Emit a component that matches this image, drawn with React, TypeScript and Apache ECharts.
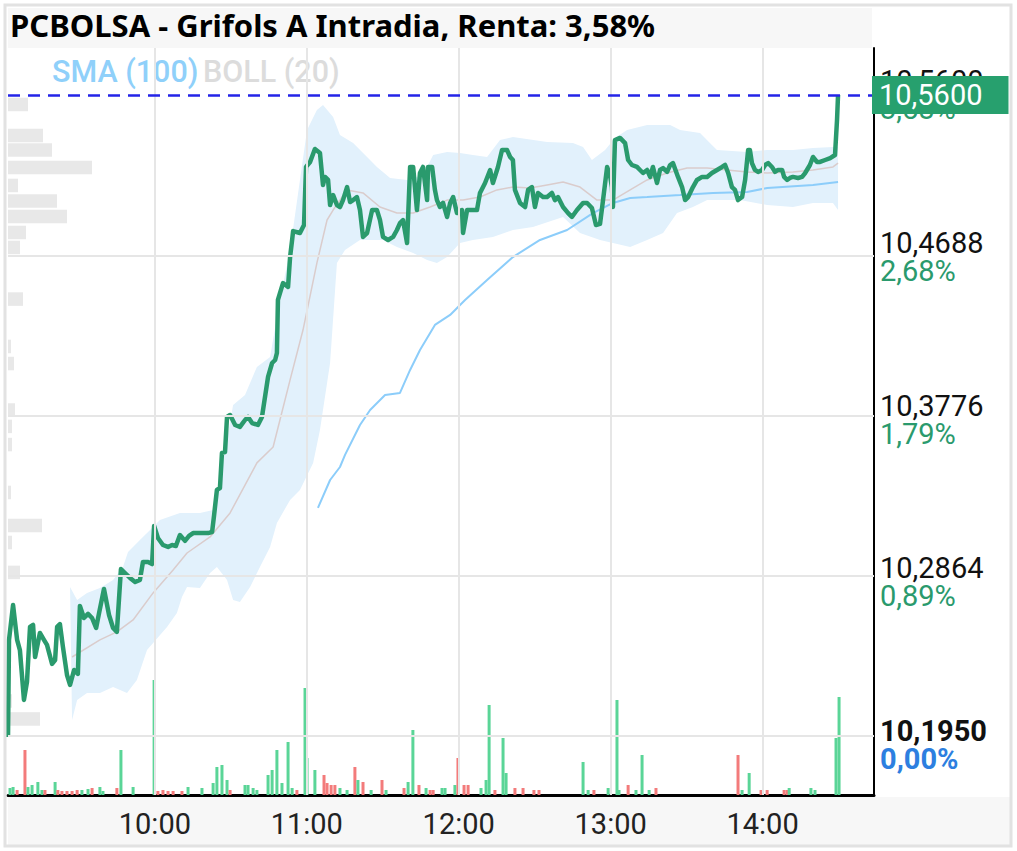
import React, { useEffect, useRef } from 'react';
import * as echarts from 'echarts';

// ---- Data (x = minutes after 09:00) ----
const chartTitle = 'PCBOLSA - Grifols A Intradia, Renta: 3,58%';
const lastPrice = 10.56;
const lastPriceLabel = '10,5600';

const priceTimes = [
  2.0, 2.4, 4.0, 5.6, 6.7, 8.3, 9.5, 10.7, 11.9, 12.7,
  14.6, 16.2, 17.4, 19.4, 20.6, 21.4, 22.5, 23.7, 25.3, 26.5,
  28.1, 29.6, 30.4, 32.0, 33.6, 35.2, 36.8, 37.9, 39.9, 41.9,
  43.5, 45.0, 46.6, 48.6, 50.2, 52.2, 54.1, 55.3, 57.3, 58.9,
  59.7, 61.2, 63.2, 65.2, 66.8, 68.3, 69.9, 71.9, 73.5, 75.1,
  77.8, 81.0, 82.6, 83.4, 84.5, 85.7, 86.5, 87.7, 88.5, 89.7,
  91.7, 93.6, 95.6, 96.8, 98.4, 100.7, 102.3, 104.7, 106.3, 107.5,
  108.2, 108.6, 109.4, 110.6, 112.6, 113.4, 114.2, 114.6, 117.3, 118.9,
  119.7, 121.3, 123.2, 125.2, 126.4, 127.2, 128.4, 129.2, 130.4, 131.9,
  133.1, 134.3, 135.9, 137.1, 138.3, 139.8, 141.0, 142.2, 143.8, 145.8,
  147.7, 148.9, 150.1, 152.1, 154.1, 155.6, 156.8, 158.0, 159.6, 160.8,
  162.0, 163.5, 164.7, 165.9, 167.5, 167.9, 169.5, 170.6, 171.4, 172.6,
  173.8, 175.4, 176.6, 177.8, 179.3, 181.3, 181.7, 183.3, 185.3, 187.2,
  188.4, 190.4, 192.4, 193.5, 195.5, 197.1, 199.1, 200.3, 201.4, 202.2,
  204.2, 206.2, 207.4, 208.9, 210.1, 211.3, 213.3, 214.9, 216.8, 218.0,
  219.2, 221.2, 223.2, 224.7, 226.7, 229.1, 230.7, 232.6, 234.2, 235.8,
  237.0, 238.6, 239.7, 240.5, 240.9, 241.7, 243.7, 245.7, 246.9, 248.4,
  250.4, 251.6, 252.8, 254.4, 255.6, 256.7, 258.3, 259.5, 260.7, 262.3,
  263.5, 264.6, 266.6, 268.2, 269.4, 270.6, 272.5, 274.1, 276.1, 278.1,
  280.0, 282.0, 284.0, 285.2, 286.4, 287.9, 289.1, 290.3, 291.9, 293.1,
  294.3, 295.0, 295.8, 297.0, 298.2, 299.8, 301.0, 302.2, 303.7, 304.9,
  306.1, 307.7, 308.5, 309.7, 310.8, 312.0, 314.0, 315.6, 316.8, 318.7,
  319.9, 321.5, 322.7, 324.7, 326.7, 328.6, 329.4, 329.8,
];
const priceValues = [
  10.1995, 10.2540, 10.2736, 10.2540, 10.2483, 10.2203, 10.2304, 10.2613, 10.2624, 10.2444,
  10.2579, 10.2540, 10.2512, 10.2405, 10.2427, 10.2613, 10.2629, 10.2500, 10.2343, 10.2287,
  10.2371, 10.2349, 10.2731, 10.2663, 10.2686, 10.2663, 10.2607, 10.2686, 10.2826, 10.2680,
  10.2607, 10.2585, 10.2938, 10.2910, 10.2888, 10.2865, 10.2877, 10.2978, 10.2978, 10.2966,
  10.3180, 10.3112, 10.3073, 10.3062, 10.3073, 10.3067, 10.3129, 10.3096, 10.3124, 10.3140,
  10.3140, 10.3140, 10.3146, 10.3242, 10.3382, 10.3393, 10.3590, 10.3595, 10.3792, 10.3803,
  10.3747, 10.3736, 10.3775, 10.3792, 10.3758, 10.3747, 10.3792, 10.4017, 10.4095, 10.4112,
  10.4151, 10.4449, 10.4488, 10.4544, 10.4522, 10.4690, 10.4786, 10.4836, 10.4825, 10.4870,
  10.5196, 10.5224, 10.5297, 10.5274, 10.5095, 10.5140, 10.5123, 10.4982, 10.5038, 10.4982,
  10.4971, 10.5010, 10.5083, 10.4999, 10.5010, 10.5027, 10.4954, 10.4803, 10.4825, 10.4954,
  10.4954, 10.4898, 10.4803, 10.4786, 10.4803, 10.4842, 10.4881, 10.4898, 10.4769, 10.5196,
  10.5196, 10.4954, 10.5162, 10.5196, 10.5010, 10.5196, 10.5196, 10.5067, 10.5010, 10.4971,
  10.4994, 10.4915, 10.4994, 10.5027, 10.4937, 10.4954, 10.4825, 10.4954, 10.4954, 10.4954,
  10.5050, 10.5106, 10.5179, 10.5106, 10.5196, 10.5291, 10.5291, 10.5252, 10.5235, 10.5067,
  10.4994, 10.4971, 10.5067, 10.5083, 10.4971, 10.5050, 10.5027, 10.5027, 10.5050, 10.5010,
  10.5027, 10.4971, 10.4937, 10.4915, 10.4954, 10.4994, 10.4994, 10.4965, 10.4870, 10.4876,
  10.5010, 10.5196, 10.5151, 10.5083, 10.4971, 10.5347, 10.5359, 10.5330, 10.5235, 10.5207,
  10.5196, 10.5179, 10.5162, 10.5179, 10.5140, 10.5196, 10.5106, 10.5179, 10.5190, 10.5168,
  10.5207, 10.5218, 10.5140, 10.5083, 10.5010, 10.5027, 10.5083, 10.5123, 10.5140, 10.5140,
  10.5162, 10.5179, 10.5196, 10.5207, 10.5162, 10.5083, 10.5067, 10.5010, 10.5027, 10.5123,
  10.5291, 10.5291, 10.5218, 10.5179, 10.5168, 10.5179, 10.5207, 10.5218, 10.5196, 10.5168,
  10.5179, 10.5179, 10.5140, 10.5123, 10.5134, 10.5140, 10.5134, 10.5140, 10.5162, 10.5207,
  10.5252, 10.5224, 10.5224, 10.5235, 10.5246, 10.5263, 10.5460, 10.5600,
];

const bollUpperTimes = [
  26.5, 29.3, 33.2, 38.3, 43.5, 47.4, 49.4, 54.1, 58.1, 62.0, 69.9, 77.8, 83.0, 85.7, 88.1, 90.9,
  95.6, 100.3, 105.5, 109.4, 113.4, 117.3, 120.1, 124.0, 126.4, 130.4, 133.1, 138.3, 143.8, 147.7,
  152.9, 159.6, 165.9, 169.9, 175.4, 180.5, 185.6, 191.2, 196.3, 201.4, 214.9, 225.1, 229.1, 232.6,
  237.8, 241.7, 246.5, 254.4, 263.5, 267.4, 275.3, 279.2, 282.0, 293.9, 301.8, 312.0, 319.9, 327.8, 329.8,
];
const bollUpper = [
  10.2837, 10.2764, 10.2804, 10.2832, 10.2877, 10.2950, 10.3034, 10.3101, 10.3157, 10.3213, 10.3253, 10.3253, 10.3270, 10.3438, 10.3635, 10.3859,
  10.3915, 10.4073, 10.4129, 10.4449, 10.4730, 10.5123, 10.5403, 10.5516, 10.5544, 10.5476, 10.5375, 10.5330, 10.5252, 10.5196,
  10.5134, 10.5123, 10.5151, 10.5263, 10.5280, 10.5274, 10.5263, 10.5252, 10.5347, 10.5364, 10.5336, 10.5330, 10.5308, 10.5235,
  10.5291, 10.5359, 10.5403, 10.5432, 10.5432, 10.5403, 10.5387, 10.5330, 10.5291, 10.5280, 10.5291, 10.5291, 10.5302, 10.5308, 10.5308,
];
const bollLowerTimes = [
  27.3, 29.3, 33.2, 38.3, 43.5, 49.0, 52.9, 56.9, 59.3, 64.8, 68.7, 70.7, 72.7, 77.8, 81.8, 84.5,
  88.5, 90.9, 93.6, 97.6, 101.5, 105.5, 108.2, 113.4, 117.3, 122.5, 125.2, 129.2, 131.9, 135.1,
  141.0, 150.1, 155.6, 162.0, 167.5, 171.4, 175.4, 180.5, 185.6, 193.5, 201.4, 209.3, 221.2, 227.9,
  235.8, 240.9, 247.7, 254.4, 260.7, 266.2, 272.5, 278.1, 291.1, 301.8, 312.0, 319.9, 327.8, 329.8,
];
const bollLower = [
  10.2090, 10.2203, 10.2242, 10.2242, 10.2276, 10.2242, 10.2315, 10.2483, 10.2523, 10.2613, 10.2691, 10.2781, 10.2837, 10.2832, 10.2916, 10.2950,
  10.2877, 10.2764, 10.2753, 10.2837, 10.2950, 10.3062, 10.3197, 10.3326, 10.3382, 10.3534, 10.3719, 10.4095, 10.4657, 10.4730,
  10.4786, 10.4786, 10.4746, 10.4713, 10.4673, 10.4657, 10.4690, 10.4769, 10.4786, 10.4803, 10.4842, 10.4859, 10.4915, 10.4825,
  10.4786, 10.4769, 10.4746, 10.4786, 10.4825, 10.4937, 10.4971, 10.5010, 10.5010, 10.4982, 10.4971, 10.4994, 10.4994, 10.4954,
];
const bollMidTimes = [
  27.3, 38.3, 45.0, 51.4, 59.3, 67.2, 72.7, 81.8, 89.7, 100.3, 106.7, 109.4, 113.4, 118.5, 124.0, 128.0,
  130.4, 135.9, 142.2, 148.9, 155.6, 162.0, 168.7, 175.4, 181.7, 188.4, 195.1, 201.4, 208.2, 214.9,
  221.2, 227.9, 234.6, 240.9, 247.7, 254.4, 262.3, 270.2, 278.1, 286.0, 293.9, 301.8, 312.0, 319.9, 327.8, 329.8,
];
const bollMid = [
  10.2444, 10.2540, 10.2585, 10.2652, 10.2804, 10.2933, 10.3028, 10.3118, 10.3253, 10.3534, 10.3623, 10.3775, 10.4000, 10.4280, 10.4657, 10.4898,
  10.4954, 10.5067, 10.5050, 10.4971, 10.4937, 10.4937, 10.4971, 10.5010, 10.5010, 10.5027, 10.5067, 10.5083, 10.5078, 10.5095,
  10.5111, 10.5083, 10.5010, 10.5010, 10.5067, 10.5123, 10.5162, 10.5190, 10.5190, 10.5179, 10.5168, 10.5162, 10.5168, 10.5179, 10.5196, 10.5218,
];
const smaTimes = [
  124.4, 129.2, 133.1, 135.1, 141.0, 145.0, 150.9, 156.8, 160.8, 164.7, 170.6, 176.6, 182.5, 191.2,
  201.4, 212.1, 222.8, 233.0, 240.9, 247.7, 254.4, 267.4, 280.4, 293.9, 301.8, 319.9, 329.8,
];
const smaValues = [
  10.3281, 10.3438, 10.3511, 10.3579, 10.3747, 10.3831, 10.3915, 10.3927, 10.4056, 10.4168, 10.4309, 10.4365, 10.4449, 10.4561,
  10.4690, 10.4786, 10.4842, 10.4937, 10.4994, 10.5022, 10.5027, 10.5038, 10.5050, 10.5055, 10.5078, 10.5095, 10.5111,
];

const volTimes = [
  2.8, 4.0, 5.6, 8.7, 9.9, 11.5, 13.8, 15.4, 16.6, 20.6,
  21.7, 23.3, 25.3, 27.3, 29.3, 31.2, 33.6, 35.2, 38.3, 39.5,
  45.0, 46.6, 51.4, 59.7, 61.2, 63.2, 65.2, 67.2, 70.7, 73.1,
  78.6, 83.0, 84.5, 86.5, 88.5, 89.7, 95.6, 96.8, 98.8, 100.3,
  104.7, 106.3, 108.2, 110.2, 112.6, 114.2, 116.1, 119.3, 120.1, 123.2,
  126.8, 128.0, 129.6, 131.1, 133.1, 135.9, 139.0, 140.2, 142.2, 145.4,
  149.7, 151.3, 158.4, 160.0, 161.9, 164.3, 167.1, 168.7, 169.9, 173.4,
  174.6, 178.5, 179.7, 182.1, 183.7, 188.8, 190.8, 192.0, 194.3, 197.5,
  198.7, 202.2, 205.4, 209.7, 211.7, 229.1, 231.1, 233.4, 239.0, 242.5,
  243.3, 246.9, 250.0, 252.4, 255.2, 257.9, 290.3, 291.9, 294.7, 299.4,
  301.8, 308.5, 309.7, 310.5, 319.1, 320.7, 329.0, 330.2,
];
const volValues = [
  7, 8, 5, 45, 8, 10, 13, 5, 5, 13,
  5, 4, 4, 4, 5, 5, 6, 7, 8, 4,
  7, 45, 8, 115, 4, 5, 4, 4, 4, 8,
  7, 12, 28, 30, 15, 5, 10, 10, 7, 5,
  20, 25, 45, 12, 53, 7, 5, 107, 37, 25,
  20, 12, 10, 10, 7, 5, 28, 15, 13, 5,
  15, 5, 7, 13, 65, 10, 7, 5, 5, 7,
  7, 10, 37, 10, 10, 7, 15, 90, 5, 57,
  22, 7, 7, 5, 5, 33, 5, 5, 7, 95,
  5, 10, 5, 40, 5, 7, 40, 5, 22, 5,
  5, 5, 5, 7, 7, 5, 57, 98,
];
const volUp = [
  1, 1, 0, 0, 1, 1, 1, 1, 0, 1,
  0, 0, 0, 0, 0, 1, 1, 0, 1, 1,
  0, 1, 1, 1, 0, 0, 0, 0, 0, 1,
  1, 1, 1, 1, 1, 0, 1, 1, 1, 1,
  1, 1, 1, 1, 1, 1, 0, 1, 1, 1,
  0, 0, 0, 0, 1, 1, 0, 1, 0, 1,
  0, 1, 0, 1, 1, 0, 1, 0, 0, 1,
  1, 1, 0, 0, 0, 1, 1, 1, 0, 1,
  1, 0, 0, 0, 0, 1, 1, 0, 1, 1,
  1, 0, 1, 1, 1, 0, 0, 1, 1, 0,
  0, 0, 0, 1, 1, 1, 1, 1,
];

const profilePrices = [
  10.5547, 10.5373, 10.5291, 10.5193, 10.5092, 10.5005, 10.4918, 10.4828, 10.4744, 10.4454, 10.4188,
  10.4092, 10.3831, 10.3739, 10.3637, 10.3368, 10.3183, 10.3087, 10.2919, 10.2197, 10.2096,
];
const profileVolumes = [20, 35, 44, 84, 10, 49, 59, 18, 12, 15, 3, 6, 7, 4, 4, 3, 34, 4, 12, 4, 32];
const profileBin = 0.0076;

const priceTicks = [10.195, 10.2864, 10.3776, 10.4688, 10.56];
const priceTickLabels = ['10,1950', '10,2864', '10,3776', '10,4688', '10,5600'];
const pctTickLabels = ['0,00%', '0,89%', '1,79%', '2,68%', '3,58%'];
const hourTicks = [60, 120, 180, 240, 300];

const X_MIN = 2;
const X_MAX = 344;
const Y_MIN = 10.1669;
const Y_MAX = 10.5864;

function fmtTime(v: number) {
  const t = 540 + v;
  const h = Math.floor(t / 60);
  const m = Math.round(t % 60);
  return `${h}:${m < 10 ? '0' + m : m}`;
}

export default function App() {
  const ref = useRef<HTMLDivElement>(null);
  useEffect(() => {
    document.body.style.margin = '0';
    const chart = echarts.init(ref.current!, null, { renderer: 'svg' });
    const green = '#2a9a6d';
    const option: any = {
      animation: false,
      backgroundColor: '#ffffff',
      grid: [
        { left: 8, top: 48, width: 866, height: 747 },
        { left: 8, top: 655, width: 866, height: 140 },
        { left: 8, top: 48, width: 866, height: 747 },
      ],
      xAxis: [
        {
          gridIndex: 0, type: 'value', min: X_MIN, max: X_MAX,
          axisLine: { show: true, onZero: false, lineStyle: { color: '#000', width: 3 } },
          axisTick: { show: false },
          splitLine: { show: false },
          axisLabel: {
            customValues: hourTicks,
            formatter: (v: number) => fmtTime(v),
            fontSize: 29, color: '#222', fontFamily: 'Roboto', margin: 14,
          },
        },
        { gridIndex: 1, type: 'value', min: X_MIN, max: X_MAX, show: false },
        { gridIndex: 2, type: 'value', min: 0, max: 866, show: false },
      ],
      yAxis: [
        {
          gridIndex: 0, type: 'value', position: 'right', min: Y_MIN, max: Y_MAX,
          axisLine: { show: true, lineStyle: { color: '#000', width: 2 } },
          axisTick: { show: false },
          splitLine: { show: false },
          axisLabel: {
            customValues: priceTicks,
            margin: 6,
            formatter: (v: number) => {
              let idx = 0;
              priceTicks.forEach((p, i) => { if (Math.abs(p - v) < 1e-6) idx = i; });
              if (idx === 0) return `{pb|${priceTickLabels[idx]}}\n{cb|${pctTickLabels[idx]}}`;
              return `{p|${priceTickLabels[idx]}}\n{c|${pctTickLabels[idx]}}`;
            },
            rich: {
              p: { color: '#111', fontSize: 29, lineHeight: 28, fontFamily: 'Roboto' },
              c: { color: green, fontSize: 29, lineHeight: 28, fontFamily: 'Roboto' },
              pb: { color: '#111', fontSize: 29, lineHeight: 28, fontFamily: 'Roboto', fontWeight: 'bold' },
              cb: { color: '#2d7fe0', fontSize: 29, lineHeight: 28, fontFamily: 'Roboto', fontWeight: 'bold' },
            },
          },
        },
        { gridIndex: 1, type: 'value', min: 0, max: 140, show: false },
        { gridIndex: 2, type: 'value', min: Y_MIN, max: Y_MAX, show: false },
      ],
      graphic: [
        { type: 'rect', z: -10, shape: { x: 8, y: 8, width: 864, height: 40 }, style: { fill: '#f7f7f7' } },
        { type: 'rect', z: -10, shape: { x: 8, y: 797, width: 1002, height: 48 }, style: { fill: '#f7f7f7' } },
        { type: 'rect', z: 100, shape: { x: 5, y: 5, width: 1006, height: 841 }, style: { fill: 'none', stroke: '#e2e2e2', lineWidth: 3 } },
        { type: 'text', left: 10, top: 9, style: { text: chartTitle, fontSize: 31, fontWeight: 'bold', fontFamily: 'Noto Sans', fill: '#000' } },
        { type: 'text', left: 52, top: 56, style: { text: 'SMA (100)', fontSize: 30.5, fontWeight: 500, fontFamily: 'Roboto', fill: '#8fd0fa' } },
        { type: 'text', left: 203, top: 56, style: { text: 'BOLL (20)', fontSize: 30.5, fontWeight: 500, fontFamily: 'Roboto', fill: '#dcdcdc' } },
      ],
      series: [
        {
          name: 'grid', type: 'line', xAxisIndex: 0, yAxisIndex: 0, data: [], z: 1, silent: true,
          markLine: {
            silent: true, symbol: ['none', 'none'], label: { show: false },
            lineStyle: { color: '#e6e6e6', width: 2, type: 'solid' },
            data: [
              ...hourTicks.map((v) => ({ xAxis: v })),
              ...priceTicks.slice(0, 4).map((v) => ({ yAxis: v })),
            ],
          },
        },
        {
          name: 'profile', type: 'custom', xAxisIndex: 2, yAxisIndex: 2, z: 2, silent: true, clip: false,
          data: profilePrices.map((p, i) => [profileVolumes[i], p]),
          renderItem: (params: any, api: any) => {
            const vol = api.value(0);
            const price = api.value(1);
            const a = api.coord([0, price + profileBin / 2]);
            const b = api.coord([vol, price - profileBin / 2]);
            return { type: 'rect', shape: { x: a[0], y: a[1], width: b[0] - a[0], height: b[1] - a[1] }, style: { fill: '#e8e8e8' } };
          },
        },
        {
          name: 'BOLL band', type: 'custom', xAxisIndex: 0, yAxisIndex: 0, z: 2, silent: true, clip: false,
          data: [[bollUpperTimes[0], bollUpper[0]]],
          renderItem: (params: any, api: any) => {
            const pts: number[][] = [];
            bollUpperTimes.forEach((t, i) => pts.push(api.coord([t, bollUpper[i]])));
            for (let i = bollLowerTimes.length - 1; i >= 0; i--) pts.push(api.coord([bollLowerTimes[i], bollLower[i]]));
            return { type: 'polygon', shape: { points: pts }, style: { fill: '#e2f1fc' } };
          },
        },
        {
          name: 'BOLL mid', type: 'line', xAxisIndex: 0, yAxisIndex: 0, z: 3, symbol: 'none', silent: true,
          data: bollMidTimes.map((t, i) => [t, bollMid[i]]),
          lineStyle: { color: '#dacccc', width: 1.5 },
        },
        {
          name: 'SMA (100)', type: 'line', xAxisIndex: 0, yAxisIndex: 0, z: 3, symbol: 'none', silent: true,
          data: smaTimes.map((t, i) => [t, smaValues[i]]),
          lineStyle: { color: '#8ccdfa', width: 2 },
        },
        {
          name: 'Volumen', type: 'bar', xAxisIndex: 1, yAxisIndex: 1, z: 3, silent: true, barWidth: 3,
          data: volTimes.map((t, i) => ({
            value: [t, volValues[i]],
            itemStyle: { color: volUp[i] ? '#5ad597' : '#f37b7b' },
          })),
        },
        {
          name: 'Precio', type: 'line', xAxisIndex: 0, yAxisIndex: 0, z: 4, symbol: 'none', silent: true,
          data: priceTimes.map((t, i) => [t, priceValues[i]]),
          lineStyle: { color: green, width: 4.5, join: 'round' },
        },
        {
          name: 'last', type: 'line', xAxisIndex: 0, yAxisIndex: 0, data: [], z: 6, silent: true,
          markLine: {
            silent: true, symbol: ['none', 'none'],
            lineStyle: { color: '#2424e8', width: 2.5, type: [12, 8] },
            label: {
              show: true, position: 'end', distance: -2,
              formatter: lastPriceLabel,
              backgroundColor: '#27a06e', color: '#fff', fontSize: 29, fontFamily: 'Roboto',
              padding: [3, 26, 2, 7], lineHeight: 33,
            },
            data: [{ yAxis: lastPrice }],
          },
        },
      ],
    };
    chart.setOption(option);
    return () => chart.dispose();
  }, []);
  return <div ref={ref} style={{ width: 1017, height: 851 }} />;
}
